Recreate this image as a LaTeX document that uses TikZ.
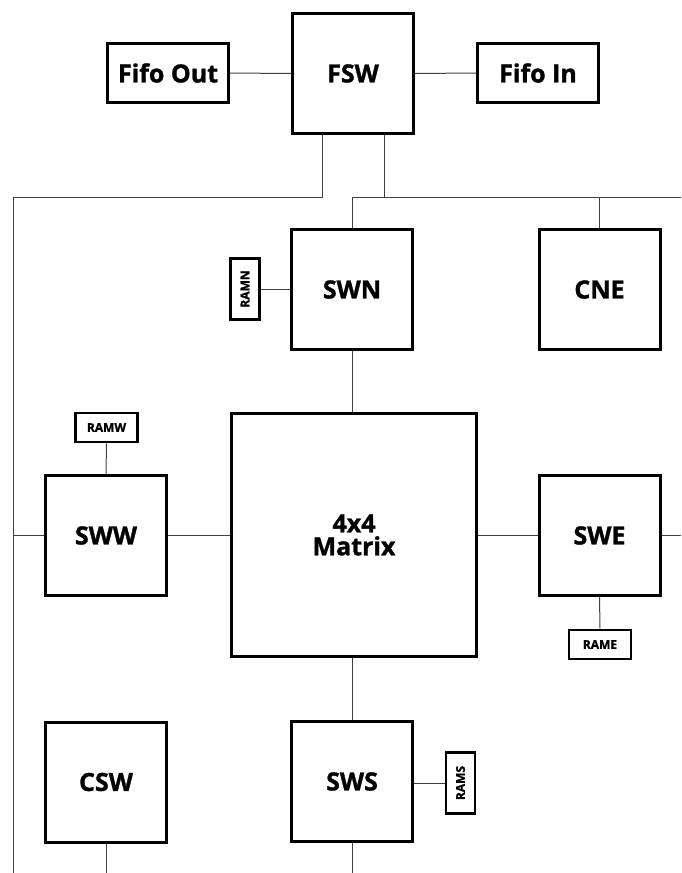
\documentclass[tikz,border=0pt]{standalone}
\usepackage{fontspec}
\setmainfont{Open Sans}[BoldFeatures={FakeBold=1.2}]
\tikzset{
	blk/.style={draw,line width=3pt,inner sep=0pt,minimum width=121pt,minimum height=120pt,font=\bfseries\fontsize{25}{27}\selectfont,align=center},
	fifo/.style={blk,minimum width=121pt,minimum height=59pt},
	ram/.style={draw,line width=2.6pt,inner sep=0pt,font=\bfseries\fontsize{12}{13}\selectfont},
	ramh/.style={ram,minimum width=62pt,minimum height=29pt},
	ramv/.style={ram,minimum width=29pt,minimum height=61pt},
	wire/.style={black!75,line width=1pt}
}
\begin{document}
\begin{tikzpicture}[x=1pt,y=-1pt]
	\useasboundingbox (0,0) rectangle (681,873);
	\node[blk] (fsw) at (353,73.5) {FSW};
	\node[fifo] (fifoout) at (168,73) {Fifo Out};
	\node[fifo] (fifoin) at (538,73) {Fifo In};
	\node[blk] (swn) at (352,289.5) {SWN};
	\node[blk] (cne) at (599.5,289.5) {CNE};
	\node[blk,minimum width=245pt,minimum height=243pt] (matrix) at (354,535) {4x4\\[-4pt]Matrix};
	\node[blk] (sww) at (106,535.5) {SWW};
	\node[blk] (swe) at (599.5,535.5) {SWE};
	\node[blk] (sws) at (352,781.5) {SWS};
	\node[blk] (csw) at (106,782) {CSW};
	\node[ramv] (ramn) at (245,289) {\rotatebox{90}{RAMN}};
	\node[ramh] (ramw) at (106.5,427.5) {RAMW};
	\node[ramh] (rame) at (600,644.5) {RAME};
	\node[ramv] (rams) at (460.5,783) {\rotatebox{90}{RAMS}};
	\coordinate (tapl) at (322,197);
	\coordinate (tapr) at (384,197);
	\coordinate (busw) at (13,197);
	\coordinate (buswend) at (13,873);
	\coordinate (busn) at (352,197);
	\coordinate (buse) at (681,197);
	\coordinate (swelink) at (681,535.5);
	\coordinate (swsend) at (352,873);
	\coordinate (cswend) at (106,873);
	\draw[wire] (fsw.west) -- (fifoout.east);
	\draw[wire] (fsw.east) -- (fifoin.west);
	\draw[wire] (fsw.south -| tapl) -- (tapl) -- (busw) -- (buswend);
	\draw[wire] (fsw.south -| tapr) -- (tapr);
	\draw[wire] (busn) -- (buse);
	\draw[wire] (busn) -- (swn.north);
	\draw[wire] (cne.north |- buse) -- (cne.north);
	\draw[wire] (ramn.east) -- (ramn.east -| swn.west);
	\draw[wire] (swn.south) -- (swn.south |- matrix.north);
	\draw[wire] (sww.west -| busw) -- (sww.west);
	\draw[wire] (sww.east) -- (sww.east -| matrix.west);
	\draw[wire] (ramw.south) -- (sww.north);
	\draw[wire] (matrix.east |- swe.west) -- (swe.west);
	\draw[wire] (swe.east) -- (swelink);
	\draw[wire] (swe.south) -- (rame.north);
	\draw[wire] (sws.north |- matrix.south) -- (sws.north);
	\draw[wire] (sws.east |- rams.west) -- (rams.west);
	\draw[wire] (sws.south) -- (swsend);
	\draw[wire] (csw.south) -- (cswend);
\end{tikzpicture}
\end{document}
